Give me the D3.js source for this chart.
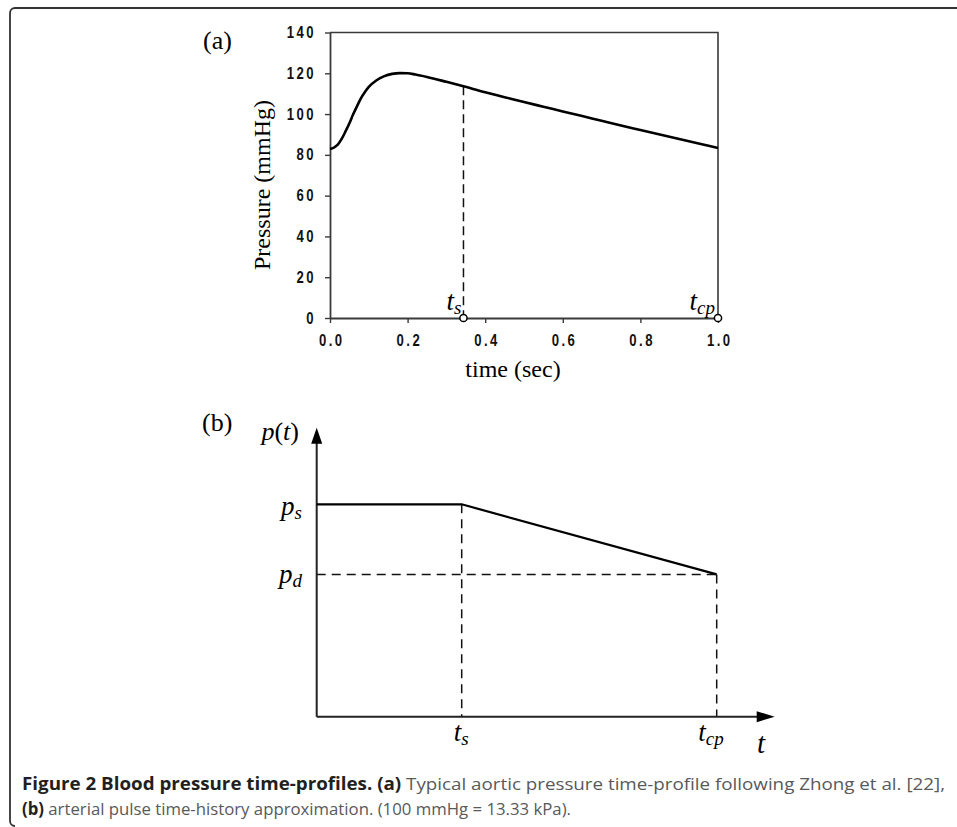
<!DOCTYPE html>
<html>
<head>
<meta charset="utf-8">
<script src="https://cdn.jsdelivr.net/npm/d3@7"></script>
<style>
  html, body { margin: 0; padding: 0; background: #fff; }
  svg { display: block; }
</style>
</head>
<body>
<svg id="fig" width="957" height="827"></svg>
<script>
// ---- (a) aortic pressure time-profile (mmHg vs sec) ----
const timeSec = [0, 0.01, 0.02, 0.03, 0.04, 0.05, 0.06, 0.07, 0.08, 0.09, 0.10,
  0.12, 0.14, 0.16, 0.18, 0.20, 0.22, 0.25, 0.30, 0.344, 0.40, 0.45, 0.50, 0.55,
  0.60, 0.65, 0.70, 0.75, 0.80, 0.85, 0.90, 0.95, 1.0];
const pressure = [82.9, 83.6, 85.0, 87.8, 91.5, 95.5, 100.0, 104.0, 107.8, 110.8, 113.3,
  116.6, 118.6, 119.7, 120.1, 120.0, 119.4, 118.2, 115.8, 113.6, 110.7, 108.3, 105.9, 103.6,
  101.3, 99.0, 96.7, 94.4, 92.2, 90.0, 87.8, 85.6, 83.4];
const xTicksA = [0, 0.2, 0.4, 0.6, 0.8, 1.0];
const yTicksA = [0, 20, 40, 60, 80, 100, 120, 140];
const tsA = 0.344;      // end of systole
const tcpA = 1.0;       // cardiac period

// ---- (b) arterial pulse approximation (normalised) ----
const pulseT = [0, 0.3625, 1.0];   // 0, t_s, t_cp
const pulseP = [1.0, 1.0, 0.67];   // p_s, p_s, p_d
const pS = 1.0, pD = 0.67;
const tS = 0.3625, tCP = 1.0;
const tAxisEnd = 1.145, pAxisEnd = 1.36;

const svg = d3.select("#fig");
const serif = "'Liberation Serif','Times New Roman',Times,serif";
const tickFont = "'Liberation Sans',Arial,sans-serif";
const squeeze = 0.82;   // horizontal compression of the tick numerals

// outer frame
svg.append("path")
  .attr("d", "M957,8 H15 A5,5 0 0 0 10,13 V821 A5,5 0 0 0 15,826")
  .attr("fill", "none").attr("stroke", "#333").attr("stroke-width", 1.8);

// ===== panel (a) =====
const xA = d3.scaleLinear().domain([0, 1]).range([330, 718]);
const yA = d3.scaleLinear().domain([0, 140]).range([318, 32.5]);

const gA = svg.append("g");

// box top and right sides
gA.append("path")
  .attr("d", `M${xA(0)},${yA(140)} H${xA(1)} V${yA(0)}`)
  .attr("fill", "none").attr("stroke", "#3a3a3a").attr("stroke-width", 1.6);

const axA_x = gA.append("g").attr("transform", `translate(0,${yA(0)})`)
  .call(d3.axisBottom(xA).tickValues(xTicksA).tickFormat(d3.format(".1f"))
    .tickSize(5).tickSizeOuter(0).tickPadding(11.5));
const axA_y = gA.append("g").attr("transform", `translate(${xA(0)},0)`)
  .call(d3.axisLeft(yA).tickValues(yTicksA).tickFormat(d3.format("d"))
    .tickSize(5).tickSizeOuter(0));

[axA_x, axA_y].forEach(ax => {
  ax.select(".domain").attr("stroke", "#3a3a3a").attr("stroke-width", 1.8);
  ax.selectAll(".tick line").attr("stroke", "#3a3a3a").attr("stroke-width", 1.4);
  ax.selectAll(".tick text")
    .attr("fill", "#111")
    .attr("transform", `scale(${squeeze},1)`)
    .style("font-family", tickFont).style("font-weight", "bold")
    .style("font-size", "16px").style("letter-spacing", "3px");
});
axA_x.selectAll(".tick text").attr("dx", "1.5px");
axA_y.selectAll(".tick text").attr("x", -16.5 / squeeze + 3);

// dashed marker at t_s
const idxTs = timeSec.indexOf(tsA);
gA.append("line")
  .attr("x1", xA(tsA)).attr("x2", xA(tsA))
  .attr("y1", yA(pressure[idxTs])).attr("y2", yA(0))
  .attr("stroke", "#111").attr("stroke-width", 1.5).attr("stroke-dasharray", "9,5");

// pressure curve
const lineA = d3.line().x((d, i) => xA(timeSec[i])).y(d => yA(d)).curve(d3.curveMonotoneX);
gA.append("path").datum(pressure)
  .attr("d", lineA)
  .attr("fill", "none").attr("stroke", "#000").attr("stroke-width", 2.6);

// open markers on the time axis
gA.selectAll("circle.mk").data([tsA, tcpA]).join("circle")
  .attr("class", "mk")
  .attr("cx", d => xA(d)).attr("cy", yA(0)).attr("r", 3.6)
  .attr("fill", "#fff").attr("stroke", "#000").attr("stroke-width", 1.5);

function subLabel(g, x, y, main, sub, anchor, size) {
  const t = g.append("text").attr("x", x).attr("y", y)
    .attr("text-anchor", anchor)
    .style("font-family", serif).style("font-style", "italic")
    .style("font-size", size + "px").attr("fill", "#000");
  t.append("tspan").text(main);
  t.append("tspan").attr("dy", 4).style("font-size", Math.round(size * 0.72) + "px").text(sub);
  return t;
}
subLabel(gA, xA(tsA) - 2, 310, "t", "s", "end", 27);
subLabel(gA, xA(tcpA) - 3, 310, "t", "cp", "end", 27);

// axis titles
gA.append("text")
  .attr("x", (xA(0) + xA(1)) / 2 - 11).attr("y", 377)
  .attr("text-anchor", "middle")
  .style("font-family", serif).style("font-size", "24px").attr("fill", "#000")
  .text("time (sec)");
gA.append("text")
  .attr("transform", "translate(270,185) rotate(-90)")
  .attr("text-anchor", "middle")
  .style("font-family", serif).style("font-size", "24px").attr("fill", "#000")
  .text("Pressure (mmHg)");
gA.append("text")
  .attr("x", 203).attr("y", 49)
  .style("font-family", serif).style("font-size", "26px").attr("fill", "#000")
  .text("(a)");

// ===== panel (b) =====
const xB = d3.scaleLinear().domain([0, 1]).range([316.7, 716.7]);
const yB = d3.scaleLinear().domain([0, 1]).range([716.7, 504.3]);
const gB = svg.append("g");

// dashed guides
const dash = { stroke: "#111", w: 1.5, arr: "9,6" };
[
  [xB(0), yB(pD), xB(tCP), yB(pD)],
  [xB(tS), yB(pS), xB(tS), yB(0)],
  [xB(tCP), yB(pD), xB(tCP), yB(0)]
].forEach(c => {
  gB.append("line").attr("x1", c[0]).attr("y1", c[1]).attr("x2", c[2]).attr("y2", c[3])
    .attr("stroke", dash.stroke).attr("stroke-width", dash.w).attr("stroke-dasharray", dash.arr);
});

// axes with arrow heads
const axisCol = "#222";
gB.append("line").attr("x1", xB(0)).attr("y1", yB(0)).attr("x2", xB(0)).attr("y2", yB(pAxisEnd) + 12)
  .attr("stroke", axisCol).attr("stroke-width", 2);
gB.append("line").attr("x1", xB(0)).attr("y1", yB(0)).attr("x2", xB(tAxisEnd) - 14).attr("y2", yB(0))
  .attr("stroke", axisCol).attr("stroke-width", 2);
gB.append("path")
  .attr("d", `M${xB(0)},${yB(pAxisEnd)} L${xB(0) - 5.5},${yB(pAxisEnd) + 16} L${xB(0) + 5.5},${yB(pAxisEnd) + 16} Z`)
  .attr("fill", "#000");
gB.append("path")
  .attr("d", `M${xB(tAxisEnd)},${yB(0)} L${xB(tAxisEnd) - 18},${yB(0) - 5.5} L${xB(tAxisEnd) - 18},${yB(0) + 5.5} Z`)
  .attr("fill", "#000");

// pulse approximation
const lineB = d3.line().x((d, i) => xB(pulseT[i])).y(d => yB(d));
gB.append("path").datum(pulseP).attr("d", lineB)
  .attr("fill", "none").attr("stroke", "#000").attr("stroke-width", 2.2);

// labels
gB.append("text").attr("x", 202).attr("y", 431)
  .style("font-family", serif).style("font-size", "26px").attr("fill", "#000").text("(b)");
const pt = gB.append("text").attr("x", 299).attr("y", 440).attr("text-anchor", "end")
  .style("font-family", serif).style("font-size", "26px").attr("fill", "#000");
pt.append("tspan").style("font-style", "italic").text("p");
pt.append("tspan").text("(");
pt.append("tspan").style("font-style", "italic").text("t");
pt.append("tspan").text(")");

subLabel(gB, 302, yB(pS) + 11, "p", "s", "end", 27);
subLabel(gB, 302, yB(pD) + 9, "p", "d", "end", 27);
subLabel(gB, xB(tS) + 7, 741, "t", "s", "end", 27);
subLabel(gB, xB(tCP) + 7, 741, "t", "cp", "end", 27);
gB.append("text").attr("x", 757).attr("y", 753)
  .style("font-family", serif).style("font-style", "italic").style("font-size", "29px")
  .attr("fill", "#000").text("t");

// ===== caption =====
const capFont = "'Open Sans','Noto Sans',sans-serif";
const cap1 = svg.append("text").attr("x", 22).attr("y", 790)
  .attr("textLength", 923).attr("lengthAdjust", "spacingAndGlyphs")
  .style("font-family", capFont).style("font-size", "17px");
cap1.append("tspan").attr("fill", "#231f20").style("font-weight", "bold").text("Figure 2 Blood pressure time-profiles. (a)");
cap1.append("tspan").attr("fill", "#58595b").text(" Typical aortic pressure time-profile following Zhong et al. [22],");
const cap2 = svg.append("text").attr("x", 22).attr("y", 815)
  .attr("textLength", 549).attr("lengthAdjust", "spacingAndGlyphs")
  .style("font-family", capFont).style("font-size", "17px");
cap2.append("tspan").attr("fill", "#231f20").style("font-weight", "bold").text("(b)");
cap2.append("tspan").attr("fill", "#58595b").text(" arterial pulse time-history approximation. (100 mmHg = 13.33 kPa).");
</script>
</body>
</html>
